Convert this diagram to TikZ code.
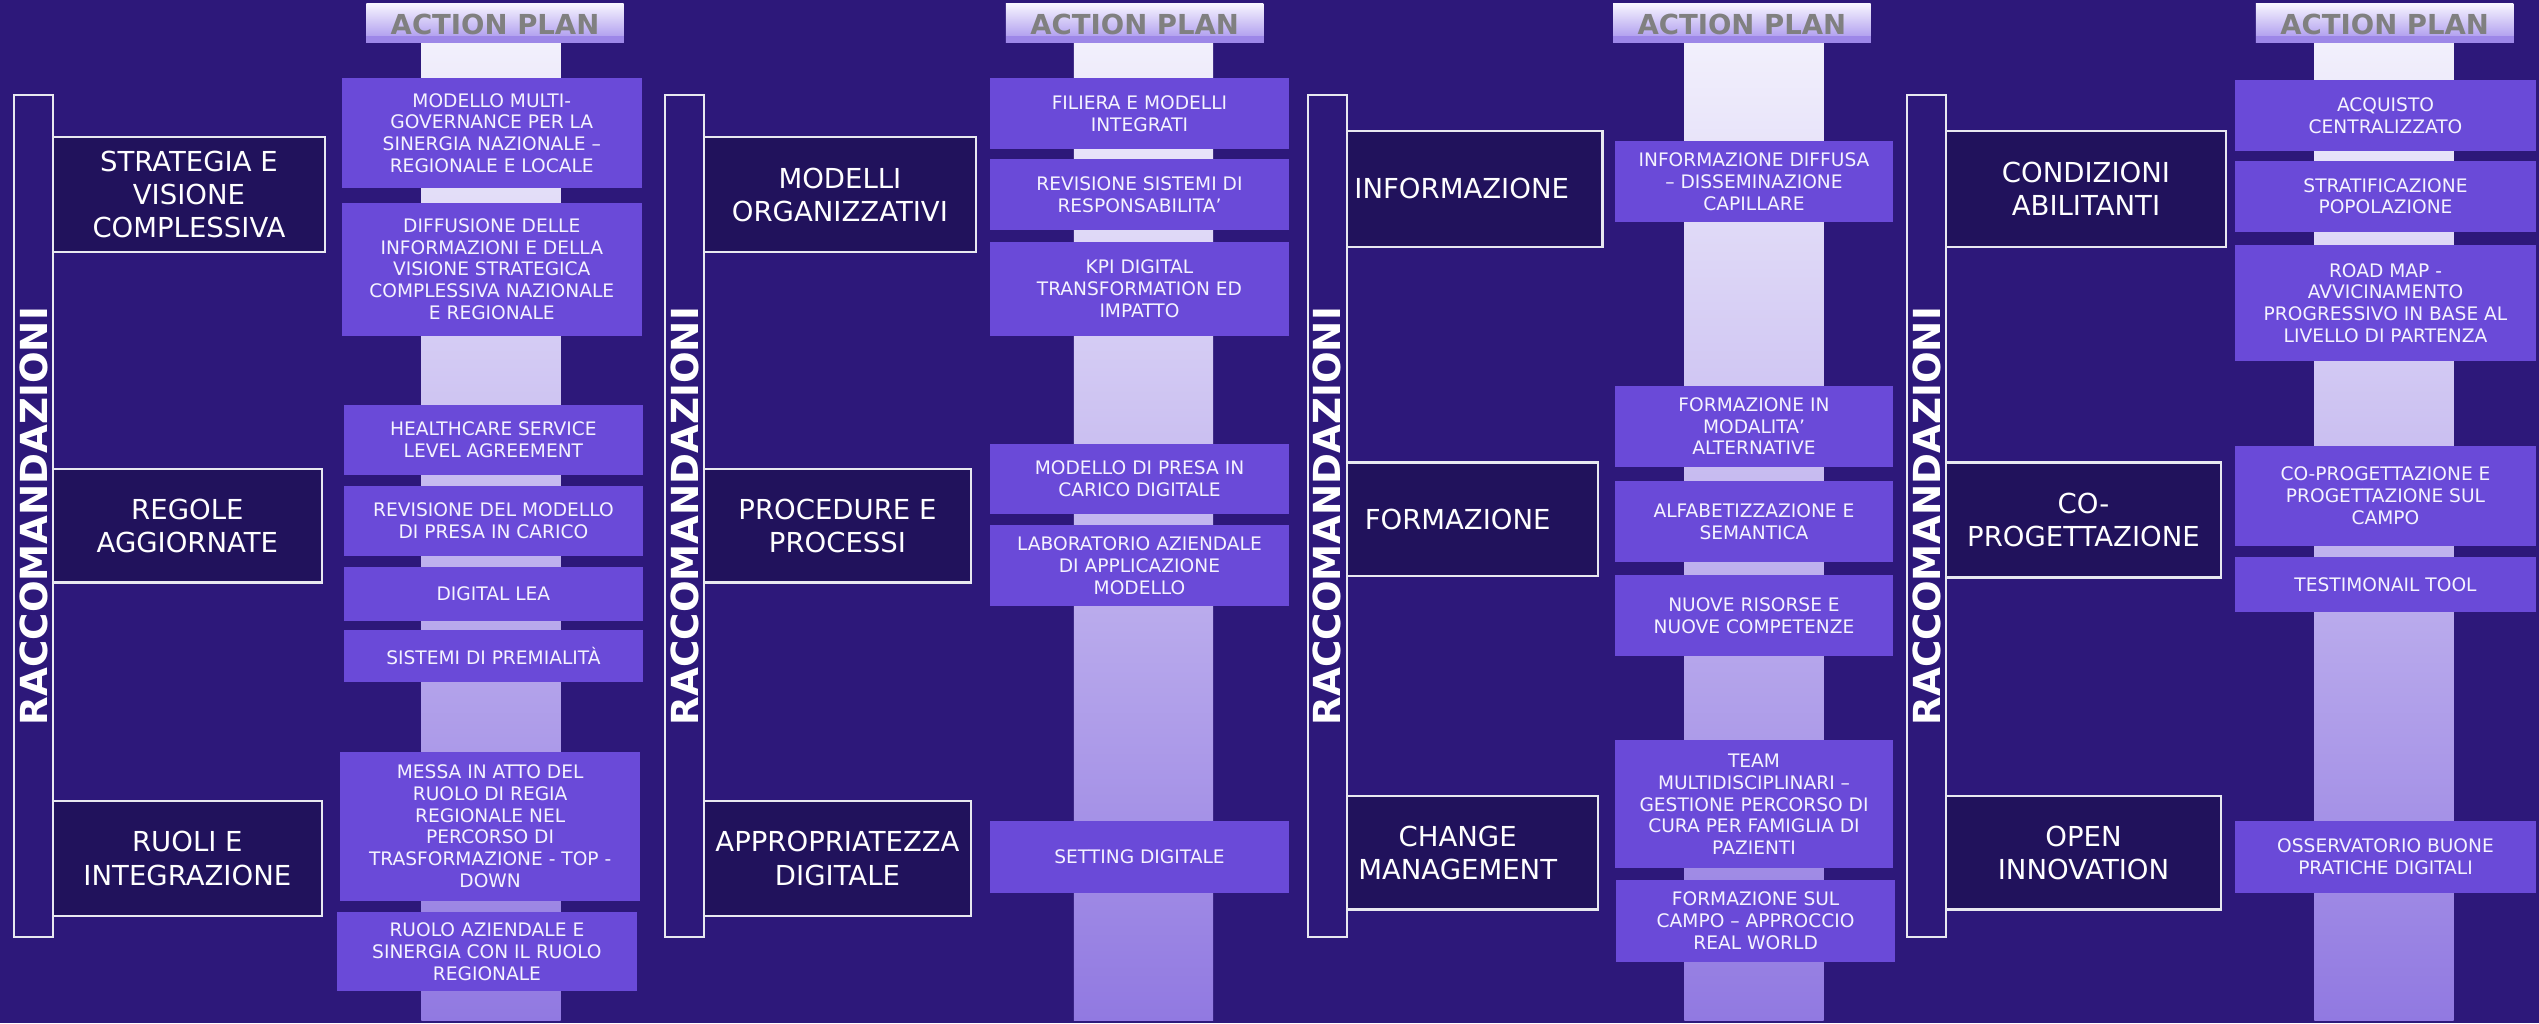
\documentclass[tikz,border=0pt]{standalone}
\usepackage{fontspec}
\setmainfont{DejaVu Sans}
\usepackage{tikz}
\usetikzlibrary{positioning}

\definecolor{bgpurple}{HTML}{2D187A}
\definecolor{recfill}{HTML}{21125C}
\definecolor{actfill}{HTML}{6A4AD8}
\definecolor{edgegray}{HTML}{E8E8F0}
\definecolor{striptop}{HTML}{F2F0FC}
\definecolor{stripbot}{HTML}{9179E1}
\definecolor{headtop}{HTML}{F7F5FF}
\definecolor{headbot}{HTML}{A591EC}
\definecolor{headband}{HTML}{9D87E8}
\definecolor{plangray}{HTML}{808080}
\definecolor{acttext}{HTML}{F5F3FF}

\tikzset{
	recbar/.style={draw=edgegray, line width=1.4pt, fill=bgpurple, minimum width=24, minimum height=520, anchor=north west, inner sep=0pt},
	raclabel/.style={rotate=90, text=white, font=\bfseries\fontsize{23}{24}\selectfont, inner sep=0pt},
	recbox/.style={draw=edgegray, line width=1.4pt, fill=recfill, text=white, font=\fontsize{17}{20.5}\selectfont, align=center, anchor=north west, inner sep=0pt},
	actbox/.style={fill=actfill, text=acttext, font=\fontsize{11.5}{13.5}\selectfont, align=center, anchor=north west, inner sep=0pt},
	stripcol/.style={top color=striptop, bottom color=stripbot, draw=none, minimum width=86, minimum height=604, anchor=north west, inner sep=0pt},
	planhead/.style={top color=headtop, bottom color=headbot, draw=none, minimum width=159, minimum height=24, anchor=north west, inner sep=0pt}
}

\begin{document}
\begin{tikzpicture}[x=1pt, y=-1pt]
	\fill[bgpurple] (0,0) rectangle (1568,632);
	\useasboundingbox (0,0) rectangle (1568,632);
	% columns: bar, action plan header, strip
	\foreach \gx/\hx/\sx [count=\i] in {8/226/260, 410/621/663, 807/996/1040, 1177/1393/1429} {
		\node[stripcol] (strip\i) at (\sx,26) {};
		\node[planhead] (plan\i) at (\hx,2) {};
		\fill[headband] ([yshift=4pt]plan\i.south west) rectangle (plan\i.south east);
		\node[text=plangray, font=\bfseries\fontsize{17}{18}\selectfont] (plantxt\i) at ([yshift=-1pt]plan\i.center) {ACTION PLAN};
		\node[recbar] (bar\i) at (\gx,58) {};
		\node[raclabel] (rac\i) at (bar\i.center) {RACCOMANDAZIONI};
	}

	% group 1
	\node[recbox, minimum width=168, minimum height=71] (strategia) at (32,84) {STRATEGIA E\\VISIONE\\COMPLESSIVA};
	\node[recbox, minimum width=166, minimum height=70] (regole) at (32,289) {REGOLE\\AGGIORNATE};
	\node[recbox, minimum width=166, minimum height=71] (ruoli) at (32,494) {RUOLI E\\INTEGRAZIONE};
	\node[actbox, minimum width=185, minimum height=68] (multigov) at (211,48) {MODELLO MULTI-\\GOVERNANCE PER LA\\SINERGIA NAZIONALE –\\REGIONALE E LOCALE};
	\node[actbox, minimum width=185, minimum height=82] (diffusione) at (211,125) {DIFFUSIONE DELLE\\INFORMAZIONI E DELLA\\VISIONE STRATEGICA\\COMPLESSIVA NAZIONALE\\E REGIONALE};
	\node[actbox, minimum width=185, minimum height=43] (healthcare) at (212,250) {HEALTHCARE SERVICE\\LEVEL AGREEMENT};
	\node[actbox, minimum width=185, minimum height=43] (revmodello) at (212,300) {REVISIONE DEL MODELLO\\DI PRESA IN CARICO};
	\node[actbox, minimum width=185, minimum height=33] (lea) at (212,350) {DIGITAL LEA};
	\node[actbox, minimum width=185, minimum height=32] (premialita) at (212,389) {SISTEMI DI PREMIALITÀ};
	\node[actbox, minimum width=185, minimum height=92] (regia) at (210,464) {MESSA IN ATTO DEL\\RUOLO DI REGIA\\REGIONALE NEL\\PERCORSO DI\\TRASFORMAZIONE - TOP -\\DOWN};
	\node[actbox, minimum width=185, minimum height=49] (aziendale) at (208,563) {RUOLO AZIENDALE E\\SINERGIA CON IL RUOLO\\REGIONALE};

	% group 2
	\node[recbox, minimum width=168, minimum height=71] (modelli) at (434,84) {MODELLI\\ORGANIZZATIVI};
	\node[recbox, minimum width=165, minimum height=70] (procedure) at (434,289) {PROCEDURE E\\PROCESSI};
	\node[recbox, minimum width=165, minimum height=71] (appropriatezza) at (434,494) {APPROPRIATEZZA\\DIGITALE};
	\node[actbox, minimum width=185, minimum height=44] (filiera) at (611,48) {FILIERA E MODELLI\\INTEGRATI};
	\node[actbox, minimum width=185, minimum height=44] (revsistemi) at (611,98) {REVISIONE SISTEMI DI\\RESPONSABILITA’};
	\node[actbox, minimum width=185, minimum height=58] (kpi) at (611,149) {KPI DIGITAL\\TRANSFORMATION ED\\IMPATTO};
	\node[actbox, minimum width=185, minimum height=43] (presacarico) at (611,274) {MODELLO DI PRESA IN\\CARICO DIGITALE};
	\node[actbox, minimum width=185, minimum height=50] (laboratorio) at (611,324) {LABORATORIO AZIENDALE\\DI APPLICAZIONE\\MODELLO};
	\node[actbox, minimum width=185, minimum height=44] (setting) at (611,507) {SETTING DIGITALE};

	% group 3
	\node[recbox, minimum width=158, minimum height=72] (informazione) at (831,80) {\hspace*{-16pt}INFORMAZIONE};
	\node[recbox, minimum width=155, minimum height=70] (formazione) at (831,285) {\hspace*{-18pt}FORMAZIONE};
	\node[recbox, minimum width=155, minimum height=70] (change) at (831,491) {\hspace*{-18pt}CHANGE\\\hspace*{-18pt}MANAGEMENT};
	\node[actbox, minimum width=172, minimum height=50] (diffusa) at (997,87) {INFORMAZIONE DIFFUSA\\– DISSEMINAZIONE\\CAPILLARE};
	\node[actbox, minimum width=172, minimum height=50] (modalita) at (997,238) {FORMAZIONE IN\\MODALITA’\\ALTERNATIVE};
	\node[actbox, minimum width=172, minimum height=50] (alfabet) at (997,297) {ALFABETIZZAZIONE E\\SEMANTICA};
	\node[actbox, minimum width=172, minimum height=50] (risorse) at (997,355) {NUOVE RISORSE E\\NUOVE COMPETENZE};
	\node[actbox, minimum width=172, minimum height=79] (team) at (997,457) {TEAM\\MULTIDISCIPLINARI –\\GESTIONE PERCORSO DI\\CURA PER FAMIGLIA DI\\PAZIENTI};
	\node[actbox, minimum width=172, minimum height=51] (campo) at (998,543) {FORMAZIONE SUL\\CAMPO – APPROCCIO\\REAL WORLD};

	% group 4
	\node[recbox, minimum width=173, minimum height=72] (condizioni) at (1201,80) {CONDIZIONI\\ABILITANTI};
	\node[recbox, minimum width=170, minimum height=71] (coprog) at (1201,285) {CO-\\PROGETTAZIONE};
	\node[recbox, minimum width=170, minimum height=70] (openinn) at (1201,491) {OPEN\\INNOVATION};
	\node[actbox, minimum width=186, minimum height=44] (acquisto) at (1380,49) {ACQUISTO\\CENTRALIZZATO};
	\node[actbox, minimum width=186, minimum height=44] (stratif) at (1380,99) {STRATIFICAZIONE\\POPOLAZIONE};
	\node[actbox, minimum width=186, minimum height=72] (roadmap) at (1380,151) {ROAD MAP -\\AVVICINAMENTO\\PROGRESSIVO IN BASE AL\\LIVELLO DI PARTENZA};
	\node[actbox, minimum width=186, minimum height=62] (coprogcampo) at (1380,275) {CO-PROGETTAZIONE E\\PROGETTAZIONE SUL\\CAMPO};
	\node[actbox, minimum width=186, minimum height=34] (testimonail) at (1380,344) {TESTIMONAIL TOOL};
	\node[actbox, minimum width=186, minimum height=44] (osservatorio) at (1380,507) {OSSERVATORIO BUONE\\PRATICHE DIGITALI};
\end{tikzpicture}
\end{document}
